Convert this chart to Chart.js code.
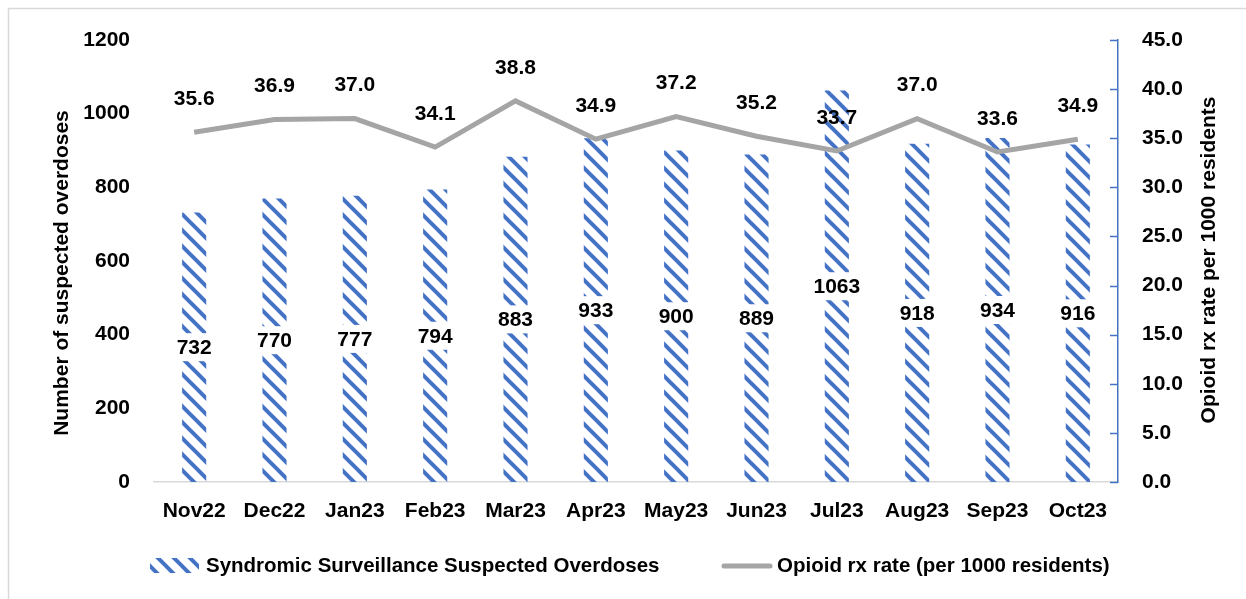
<!DOCTYPE html>
<html lang="en">
<head>
<meta charset="UTF-8">
<title>Suspected overdoses and opioid rx rate</title>
<script src="https://cdn.jsdelivr.net/npm/chart.js"></script>
<style>
  html, body { margin: 0; padding: 0; background: #fff; }
  #wrap { width: 1246px; height: 599px; }
</style>
</head>
<body>
<div id="wrap"><canvas id="chart" width="1246" height="599"></canvas></div>
<script>
// ---------- data ----------
const months = ['Nov22', 'Dec22', 'Jan23', 'Feb23', 'Mar23', 'Apr23', 'May23', 'Jun23', 'Jul23', 'Aug23', 'Sep23', 'Oct23'];
const overdoses = [732, 770, 777, 794, 883, 933, 900, 889, 1063, 918, 934, 916];
const rxRate = [35.6, 36.9, 37.0, 34.1, 38.8, 34.9, 37.2, 35.2, 33.7, 37.0, 33.6, 34.9];
const barLabel = 'Syndromic Surveillance Suspected Overdoses';
const lineLabel = 'Opioid rx rate (per 1000 residents)';
const leftTitle = 'Number of suspected overdoses';
const rightTitle = 'Opioid rx rate per 1000 residents';

const BLUE = '#4472C4';
const GRAY = '#A5A5A5';
const FONT = '"Liberation Sans", Arial, sans-serif';

// diagonal hatch (top-left to bottom-right)
function makeHatch() {
    const c = document.createElement('canvas');
    c.width = 16; c.height = 16;
    const g = c.getContext('2d');
    g.strokeStyle = BLUE;
    g.lineWidth = 4;
    [[0, 0], [-16, 0], [16, 0]].forEach(([dx, dy]) => {
        g.beginPath();
        g.moveTo(dx - 2, dy - 2);
        g.lineTo(dx + 18, dy + 18);
        g.stroke();
    });
    return g.createPattern(c, 'repeat');
}
const hatch = makeHatch();

Chart.defaults.font.family = FONT;
Chart.defaults.font.size = 21;
Chart.defaults.font.weight = 'bold';
Chart.defaults.color = '#000';

// labels, right axis ticks, titles and legend
const extras = {
    id: 'extras',
    beforeDraw(chart) {
        const ctx = chart.ctx;
        ctx.save();
        ctx.fillStyle = '#fff';
        ctx.fillRect(0, 0, chart.width, chart.height);
        ctx.strokeStyle = '#D9D9D9';
        ctx.lineWidth = 1.5;
        ctx.strokeRect(8.5, 8.5, chart.width, chart.height);
        ctx.restore();
    },
    afterDatasetsDraw(chart) {
        const ctx = chart.ctx;
        ctx.save();
        ctx.font = 'bold 21px ' + FONT;
        ctx.textAlign = 'center';
        ctx.textBaseline = 'middle';

        // bar values, on a white box at the middle of the bar
        chart.getDatasetMeta(1).data.forEach((bar, i) => {
            const txt = String(overdoses[i]);
            const w = ctx.measureText(txt).width;
            const y = (bar.y + bar.base) / 2;
            ctx.fillStyle = '#fff';
            ctx.fillRect(bar.x - w / 2 - 4, y - 14, w + 8, 28);
            ctx.fillStyle = '#000';
            ctx.fillText(txt, bar.x, y + 1);
        });

        // line values above the points
        chart.getDatasetMeta(0).data.forEach((pt, i) => {
            ctx.fillStyle = '#000';
            ctx.fillText(rxRate[i].toFixed(1), pt.x, pt.y - 33);
        });

        // right axis tick marks pointing inwards
        const y2 = chart.scales.y2;
        ctx.strokeStyle = BLUE;
        ctx.lineWidth = 1.5;
        y2.ticks.forEach(t => {
            const y = Math.round(y2.getPixelForValue(t.value)) + 0.5;
            ctx.beginPath();
            ctx.moveTo(y2.left - 8, y);
            ctx.lineTo(y2.left, y);
            ctx.stroke();
        });

        // axis titles
        ctx.fillStyle = '#000';
        ctx.save();
        ctx.translate(62, 273);
        ctx.rotate(-Math.PI / 2);
        ctx.fillText(leftTitle, 0, 0);
        ctx.restore();
        ctx.save();
        ctx.translate(1209, 260);
        ctx.rotate(-Math.PI / 2);
        ctx.fillText(rightTitle, 0, 0);
        ctx.restore();

        // legend
        ctx.font = 'bold 20.5px ' + FONT;
        ctx.textAlign = 'left';
        ctx.fillStyle = hatch;
        ctx.fillRect(150, 558, 49, 15);
        ctx.fillStyle = '#000';
        ctx.fillText(barLabel, 206, 566);
        ctx.strokeStyle = GRAY;
        ctx.lineWidth = 5;
        ctx.lineCap = 'round';
        ctx.beginPath();
        ctx.moveTo(724, 566);
        ctx.lineTo(770, 566);
        ctx.stroke();
        ctx.fillText(lineLabel, 777, 566);
        ctx.restore();
    }
};

new Chart(document.getElementById('chart'), {
    data: {
        labels: months,
        datasets: [
            {
                type: 'line',
                label: lineLabel,
                data: rxRate,
                yAxisID: 'y2',
                borderColor: GRAY,
                borderWidth: 5,
                pointRadius: 0,
                tension: 0,
                order: 0
            },
            {
                type: 'bar',
                label: barLabel,
                data: overdoses,
                yAxisID: 'y',
                backgroundColor: hatch,
                borderWidth: 0,
                barPercentage: 0.3,
                categoryPercentage: 1,
                order: 1
            }
        ]
    },
    options: {
        responsive: false,
        animation: false,
        devicePixelRatio: 1,
        layout: { padding: { top: 40, bottom: 0, left: 0, right: 0 } },
        plugins: {
            legend: { display: false },
            tooltip: { enabled: false }
        },
        scales: {
            x: {
                grid: { display: false, drawTicks: false },
                border: { display: true, color: '#D9D9D9', width: 1.5 },
                ticks: { padding: 17, maxRotation: 0 },
                afterFit(s) { s.height = 117; }
            },
            y: {
                position: 'left',
                min: 0,
                max: 1200,
                grid: { display: false, drawTicks: false },
                border: { display: false },
                ticks: { stepSize: 200, padding: 24, callback: v => String(v) },
                afterFit(s) { s.width = 154; }
            },
            y2: {
                position: 'right',
                min: 0,
                max: 45,
                grid: { display: false, drawTicks: false },
                border: { display: true, color: BLUE, width: 1.5 },
                ticks: { stepSize: 5, padding: 24, callback: v => v.toFixed(1) },
                afterFit(s) { s.width = 128; }
            }
        }
    },
    plugins: [extras]
});
</script>
</body>
</html>
